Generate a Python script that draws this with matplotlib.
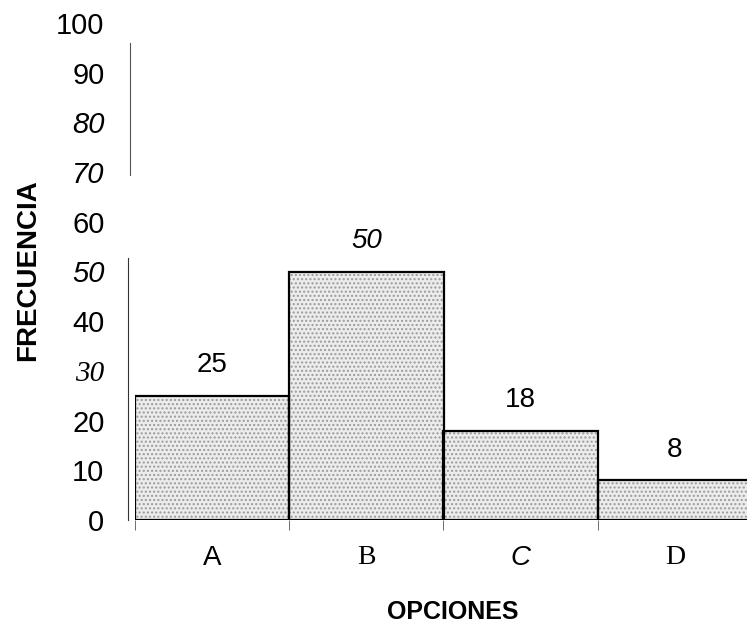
import matplotlib
matplotlib.use("Agg")
import matplotlib.pyplot as plt

categories = ["A", "B", "C", "D"]
values = [25, 50, 18, 8]
value_labels = ["25", "50", "18", "8"]
y_ticks = [0, 10, 20, 30, 40, 50, 60, 70, 80, 90, 100]

fig = plt.figure(figsize=(7.47, 6.28), dpi=100)
ax = fig.add_axes([135/747, 108/628, 617/747, 497/628])

x = list(range(len(categories)))
# stipple fill
ax.bar(x, values, width=1.0, color="#ececec", edgecolor="#9a9a9a",
       linewidth=0, hatch="....", zorder=1)
# outlines
ax.bar(x, values, width=1.0, fill=False, edgecolor="black",
       linewidth=1.6, zorder=2)

ax.set_xlim(-0.5, 3.5)
ax.set_ylim(0, 100)

for s in ["top", "right", "bottom"]:
    ax.spines[s].set_visible(False)
ax.spines["left"].set_bounds(0, 52.7)
ax.spines["left"].set_linewidth(0.8)
ax.spines["left"].set_color("#333333")
ax.spines["left"].set_position(("outward", 5))
ax.axvline(-0.53, ymin=0.694, ymax=0.96, color="#555555", lw=0.8, clip_on=False)
ax.axhline(0, color="black", lw=1.2, zorder=3)

# y ticks
ax.set_yticks(y_ticks)
ax.set_yticklabels([str(t) for t in y_ticks])
ax.tick_params(axis="y", length=0, pad=17)
ystyles = {80: ("Liberation Sans", "italic"), 70: ("Liberation Sans", "italic"),
           50: ("Liberation Sans", "italic"), 30: ("Liberation Serif", "italic")}
for t, lab in zip(y_ticks, ax.get_yticklabels()):
    fam, sty = ystyles.get(t, ("Liberation Sans", "normal"))
    lab.set_fontfamily(fam)
    lab.set_fontstyle(sty)
    lab.set_fontsize(21)

# x ticks
ax.set_xticks(x)
ax.set_xticklabels(categories)
ax.tick_params(axis="x", length=0, pad=18)
xstyles = {"A": ("Liberation Sans", "normal"), "B": ("Liberation Serif", "normal"),
           "C": ("Liberation Sans", "italic"), "D": ("Liberation Serif", "normal")}
for c, lab in zip(categories, ax.get_xticklabels()):
    fam, sty = xstyles[c]
    lab.set_fontfamily(fam)
    lab.set_fontstyle(sty)
    lab.set_fontsize(20)
ax.set_xticks([-0.5, 0.5, 1.5, 2.5], minor=True)
ax.tick_params(axis="x", which="minor", length=7, width=0.6, color="#555555", direction="out")

# value labels
for xi, v, lab in zip(x, values, value_labels):
    ax.annotate(lab, (xi, v), xytext=(0, 22), textcoords="offset points",
                ha="center", va="center", fontsize=20,
                fontfamily="Liberation Sans",
                fontstyle="italic" if lab == "50" else "normal")

ax.set_ylabel("FRECUENCIA", fontsize=20, fontweight="bold",
              fontfamily="Liberation Sans", va="center")
ax.yaxis.set_label_coords(-0.173, 0.503)
ax.set_xlabel("OPCIONES", fontsize=18, fontweight="bold",
              fontfamily="Liberation Sans", va="center")
ax.xaxis.set_label_coords(0.515, -0.185)

fig.savefig("out.png", dpi=100)
